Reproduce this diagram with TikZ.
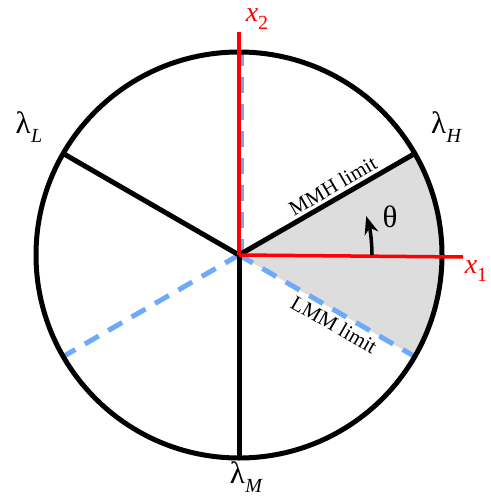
\documentclass[tikz,border=0pt]{standalone}
\usepackage{fontspec}
\setmainfont{Liberation Serif}
\usetikzlibrary{arrows.meta,calc}
\newcommand\lamsub[1]{λ\kern0.5pt\raisebox{-0.3em}{\fontsize{20}{20}\selectfont\itshape #1}}
\newcommand\xsub[1]{\textit{x}\raisebox{-0.3em}{\fontsize{20}{20}\selectfont #1}}
\tikzset{
  blackline/.style={line width=5pt, black},
  blueline/.style={line width=5pt, color={rgb,255:red,110;green,170;blue,250}, dash pattern=on 16pt off 11pt},
  redline/.style={line width=4pt, red},
  biglabel/.style={font=\fontsize{31}{31}\selectfont, inner sep=0pt},
  redlabel/.style={font=\fontsize{28}{28}\selectfont, text=red, inner sep=0pt},
  limitlabel/.style={font=\fontsize{21}{21}\selectfont, inner sep=3pt},
}
\begin{document}
\begin{tikzpicture}[x=1pt,y=-1pt]
\useasboundingbox (0,0) rectangle (490,500);
\coordinate (O) at (239,255);
\coordinate (H) at ($(O)+(-30:203)$);
\coordinate (L) at ($(O)+(-150:203)$);
\coordinate (M) at ($(O)+(90:203)$);
\coordinate (D1) at ($(O)+(30:213)$);
\coordinate (D2) at ($(O)+(150:205)$);
\coordinate (D3) at ($(O)+(-90:203)$);
\coordinate (X1) at (463,257);
\coordinate (X2) at (239,32);
% shaded wedge
\fill[color={rgb,255:red,221;green,221;blue,221}] (O) -- (H) arc[start angle=-30, end angle=30, radius=203] -- cycle;
% dashed LMM lines
\draw[blueline] (O) -- (D1) node[pos=0.55, sloped, anchor=north, limitlabel, text=black] {LMM limit};
\draw[blueline] (O) -- (D2);
\draw[blueline] ([xshift=2pt]O) -- ([xshift=2pt]D3);
% black lines
\draw[blackline] (O) -- (H) node[pos=0.57, sloped, anchor=south, limitlabel] {MMH limit};
\draw[blackline] (O) -- (L);
\draw[blackline] (O) -- (M);
% circle
\draw[line width=5pt] (O) circle[radius=203];
% axes
\draw[redline, line width=3.5pt] (O) -- (X1);
\draw[redline, line width=4.5pt] (O) -- (X2);
% theta arrow
\coordinate (A0) at ($(O)+(0:133)$);
\draw[line width=3.5pt, -{Stealth[length=18pt, width=14pt]}] (A0) arc[start angle=0, end angle=-17, radius=133] coordinate (A1);
% labels
\node[biglabel] (th) at (390,217) {θ};
\node[redlabel] (x1) at (476,271) {\xsub{1}};
\node[redlabel] (x2) at (257,19) {\xsub{2}};
\node[biglabel] (lL) at (29,127) {\lamsub{L}};
\node[biglabel] (lH) at (446,127) {\lamsub{H}};
\node[biglabel] (lM) at (246,477) {\lamsub{M}};
\end{tikzpicture}
\end{document}
